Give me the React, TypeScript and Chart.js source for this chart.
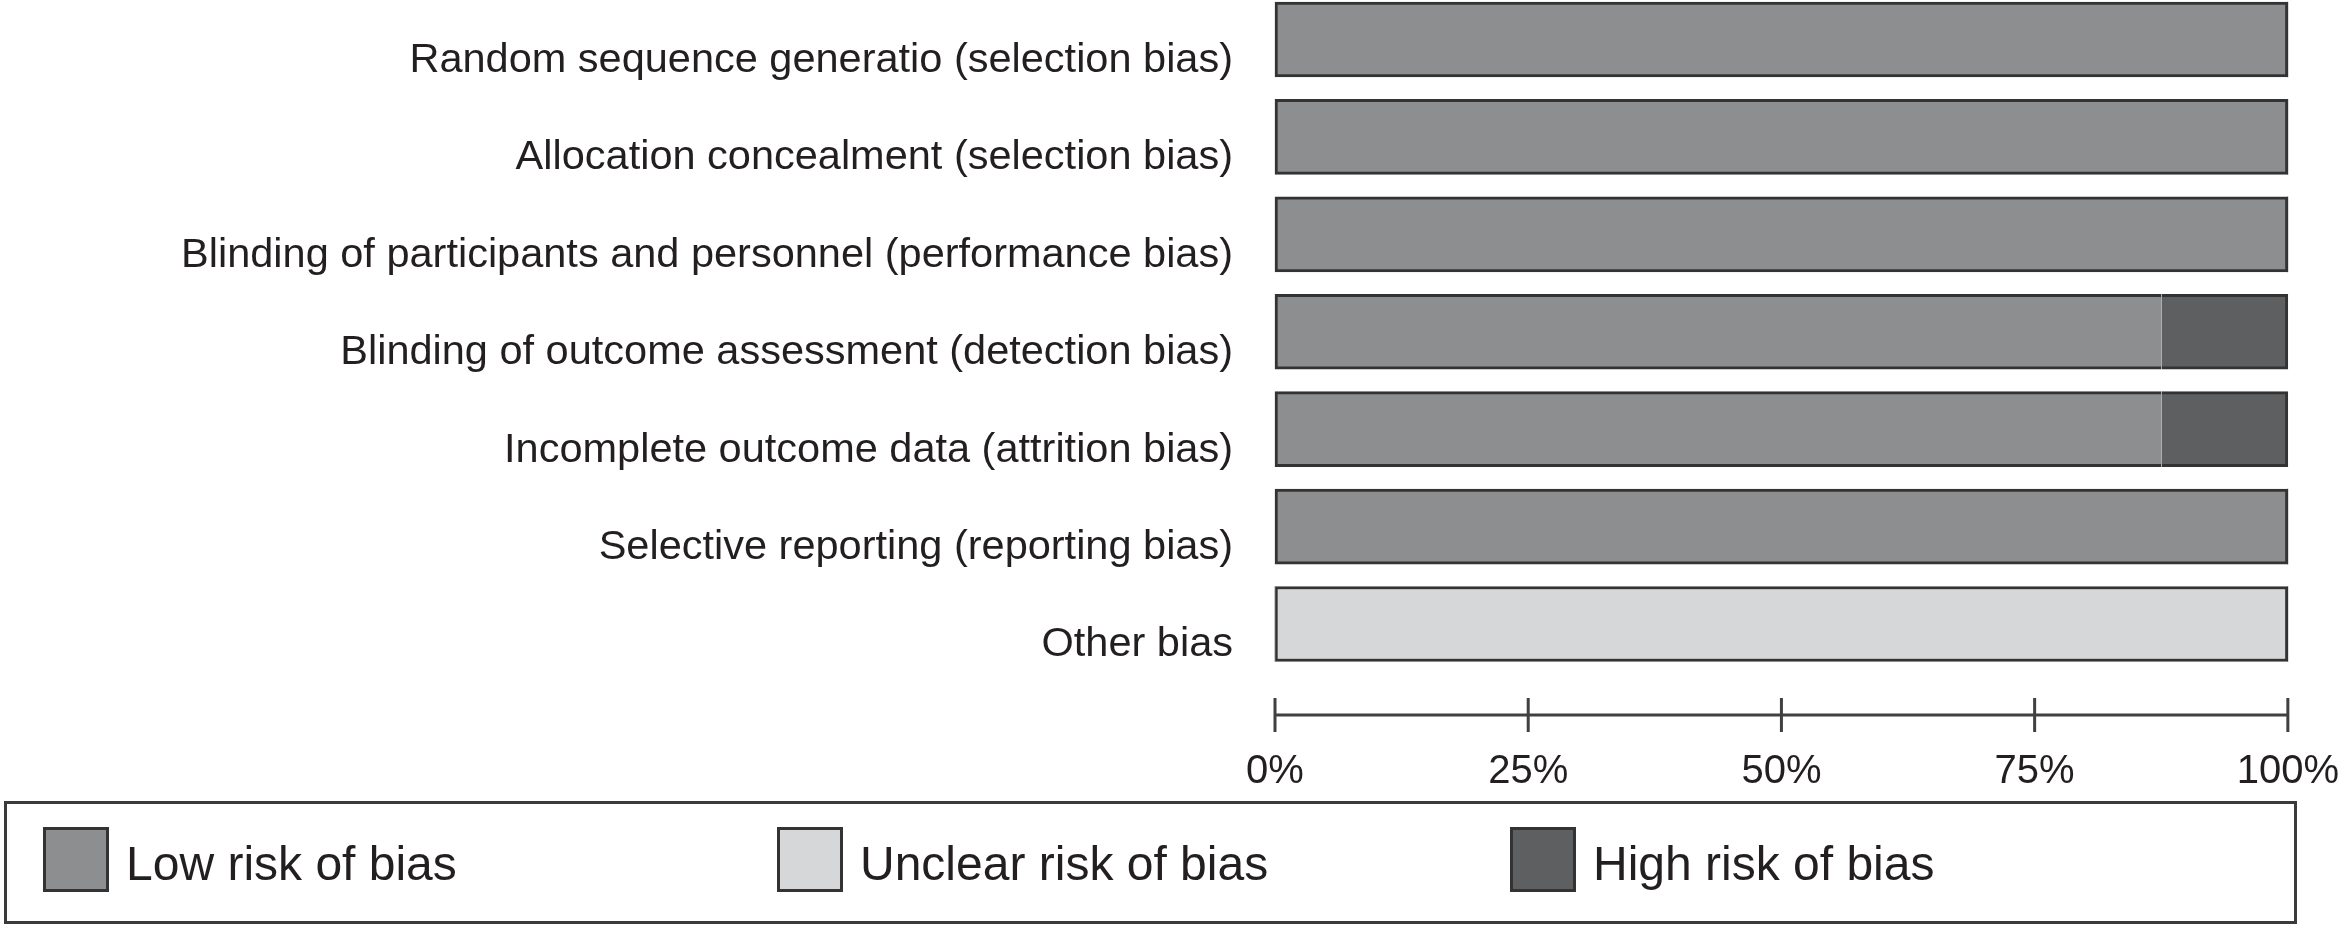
import React, { useEffect, useRef } from "react";
import { Chart, registerables } from "chart.js";

Chart.register(...registerables);

const categories = [
  "Random sequence generatio (selection bias)",
  "Allocation concealment (selection bias)",
  "Blinding of participants and personnel (performance bias)",
  "Blinding of outcome assessment (detection bias)",
  "Incomplete outcome data (attrition bias)",
  "Selective reporting (reporting bias)",
  "Other bias",
];
const lowRisk = [100, 100, 100, 87.5, 87.5, 100, 0];
const unclearRisk = [0, 0, 0, 0, 0, 0, 100];
const highRisk = [0, 0, 0, 12.5, 12.5, 0, 0];
const xTickValues = [0, 25, 50, 75, 100];
const seriesLabels = ["Low risk of bias", "Unclear risk of bias", "High risk of bias"];

const COLORS = ["#8d8e90", "#d6d7d9", "#5e5f61"];
const BORDER = "#333333";
const TEXT = "#231f20";
const FONT = "'Liberation Sans', Arial, Helvetica, sans-serif";

const series = [lowRisk, unclearRisk, highRisk];

const borderFor = (di: number) => (ctx: any) => {
  const j = ctx.dataIndex;
  const v = series[di][j];
  if (!v) return 0;
  const before = series.slice(0, di).some((s) => s[j] > 0);
  const after = series.slice(di + 1).some((s) => s[j] > 0);
  return { top: 3, bottom: 3, left: before ? 0 : 3, right: after ? 0 : 3 };
};

const axisPlugin = {
  id: "customAxis",
  afterDraw(chart: any) {
    const { ctx, chartArea } = chart;
    const x = chart.scales.x;
    const y = chartArea.bottom + 91;
    ctx.save();
    ctx.strokeStyle = "#404040";
    ctx.lineWidth = 3;
    ctx.beginPath();
    ctx.moveTo(x.getPixelForValue(xTickValues[0]), y);
    ctx.lineTo(x.getPixelForValue(xTickValues[xTickValues.length - 1]), y);
    xTickValues.forEach((v) => {
      const px = x.getPixelForValue(v);
      ctx.moveTo(px, y - 17);
      ctx.lineTo(px, y + 17);
    });
    ctx.stroke();
    ctx.restore();
  },
};

export default function App() {
  const canvasRef = useRef<HTMLCanvasElement | null>(null);

  useEffect(() => {
    if (!canvasRef.current) return;
    const chart = new Chart(canvasRef.current, {
      type: "bar",
      data: {
        labels: categories,
        datasets: series.map((data, i) => ({
          label: seriesLabels[i],
          data,
          backgroundColor: COLORS[i],
          borderColor: BORDER,
          borderWidth: borderFor(i) as any,
          borderSkipped: false,
          barThickness: 75,
          clip: false as any,
        })),
      },
      options: {
        indexAxis: "y",
        animation: false,
        responsive: false,
        devicePixelRatio: 1,
        layout: { padding: { top: 39.5, right: 57, bottom: 0, left: 0 } },
        plugins: {
          legend: { display: false },
          tooltip: { enabled: false },
        },
        scales: {
          x: {
            stacked: true,
            min: 0,
            max: 100,
            grid: { display: false, drawTicks: true, tickLength: 118 },
            border: { display: false },
            afterBuildTicks: (scale: any) => {
              scale.ticks = xTickValues.map((v) => ({ value: v }));
            },
            ticks: {
              autoSkip: false,
              maxRotation: 0,
              padding: 6,
              color: TEXT,
              font: { size: 40, family: FONT },
              callback: (v: any) => v + "%",
            },
            afterFit: (scale: any) => {
              scale.height = 302;
            },
          },
          y: {
            stacked: true,
            offset: false,
            grid: { display: false, drawTicks: true, tickLength: 36 },
            border: { display: false },
            ticks: {
              autoSkip: false,
              padding: 6,
              labelOffset: 21,
              color: TEXT,
              font: { size: 41.5, family: FONT },
            },
            afterFit: (scale: any) => {
              scale.width = 1275;
            },
          },
        },
      },
      plugins: [axisPlugin],
    });
    return () => chart.destroy();
  }, []);

  const legendLefts = [43, 777, 1510];

  return (
    <div
      style={{
        position: "absolute",
        left: 0,
        top: 0,
        width: 2345,
        height: 926,
        background: "#ffffff",
        overflow: "hidden",
      }}
    >
      <canvas ref={canvasRef} width={2345} height={926} style={{ display: "block" }} />
      <div
        style={{
          position: "absolute",
          left: 4,
          top: 801,
          width: 2293,
          height: 123,
          boxSizing: "border-box",
          border: "3px solid #3a3a3a",
        }}
      />
      {seriesLabels.map((lab, i) => (
        <div
          key={lab}
          style={{
            position: "absolute",
            left: legendLefts[i],
            top: 827,
            height: 65,
            display: "flex",
            alignItems: "center",
            whiteSpace: "nowrap",
          }}
        >
          <div
            style={{
              width: 66,
              height: 65,
              boxSizing: "border-box",
              border: `3px solid ${BORDER}`,
              background: COLORS[i],
              flex: "none",
            }}
          />
          <span
            style={{
              marginLeft: 17,
              fontFamily: FONT,
              fontSize: 48,
              color: TEXT,
              lineHeight: "65px",
              position: "relative",
              top: 4,
            }}
          >
            {lab}
          </span>
        </div>
      ))}
    </div>
  );
}
